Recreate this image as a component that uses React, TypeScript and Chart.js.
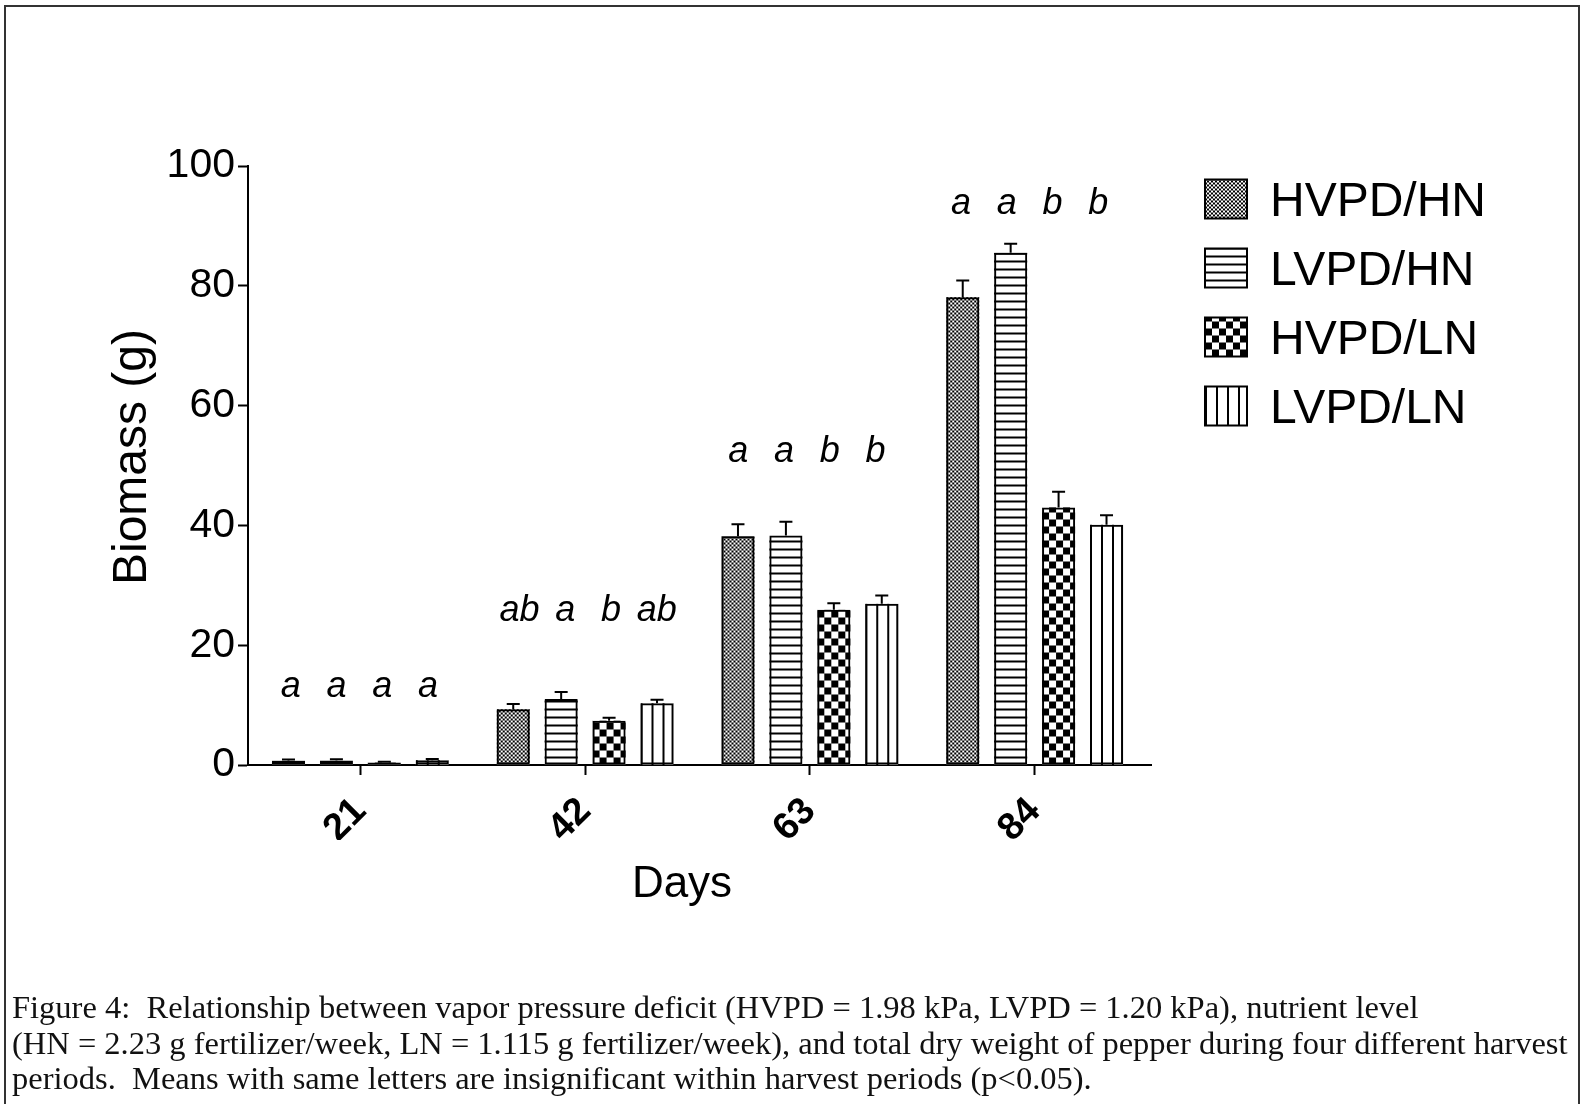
import React, { useEffect, useRef } from 'react';
import { Chart, registerables } from 'chart.js';
Chart.register(...registerables);

// ---------- data ----------
const days = ['21', '42', '63', '84'];
const seriesNames = ['HVPD/HN', 'LVPD/HN', 'HVPD/LN', 'LVPD/LN'];
const hvpdHn = [0.7, 9.3, 38.2, 78.1];
const hvpdHnErr = [0.2, 0.9, 2.0, 2.8];
const lvpdHn = [0.75, 11.0, 38.3, 85.5];
const lvpdHnErr = [0.2, 1.2, 2.3, 1.5];
const hvpdLn = [0.4, 7.4, 25.9, 43.0];
const hvpdLnErr = [0.15, 0.5, 1.1, 2.6];
const lvpdLn = [0.8, 10.3, 26.9, 40.1];
const lvpdLnErr = [0.2, 0.6, 1.4, 1.6];
const hvpdHnLetters = ['a', 'ab', 'a', 'a'];
const lvpdHnLetters = ['a', 'a', 'a', 'a'];
const hvpdLnLetters = ['a', 'b', 'b', 'b'];
const lvpdLnLetters = ['a', 'ab', 'b', 'b'];
const letterLevels = [11.3, 24.0, 50.6, 92];
const yTicks = [0, 20, 40, 60, 80, 100];
const yTitle = 'Biomass (g)';
const xTitle = 'Days';
const captionLines = [
  'Figure 4:  Relationship between vapor pressure deficit (HVPD = 1.98 kPa, LVPD = 1.20 kPa), nutrient level',
  '(HN = 2.23 g fertilizer/week, LN = 1.115 g fertilizer/week), and total dry weight of pepper during four different harvest',
  'periods.  Means with same letters are insignificant within harvest periods (p<0.05).',
];

const values = [hvpdHn, lvpdHn, hvpdLn, lvpdLn];
const errors = [hvpdHnErr, lvpdHnErr, hvpdLnErr, lvpdLnErr];
const letters = [hvpdHnLetters, lvpdHnLetters, hvpdLnLetters, lvpdLnLetters];
const patternKinds = ['fine', 'hlines', 'coarse', 'vlines'];
// letters sit slightly tighter than the bars, with a small per-group shift (px)
const letterSpread = 0.955;
const letterGroupShift = [-1, 3, -3, -5];

const SANS = '"Liberation Sans", Arial, Helvetica, sans-serif';

function makePattern(kind: string): CanvasPattern {
  const c = document.createElement('canvas');
  let w = 4, h = 4;
  if (kind === 'fine') { w = 4; h = 4; }
  if (kind === 'coarse') { w = 14; h = 14; }
  if (kind === 'hlines') { w = 8; h = 8; }
  if (kind === 'vlines') { w = 11; h = 8; }
  c.width = w; c.height = h;
  const g = c.getContext('2d')!;
  g.fillStyle = '#fff';
  g.fillRect(0, 0, w, h);
  g.fillStyle = '#000';
  if (kind === 'fine') { g.fillRect(0, 0, 2, 2); g.fillRect(2, 2, 2, 2); }
  if (kind === 'coarse') { g.fillRect(0, 0, 7, 7); g.fillRect(7, 7, 7, 7); }
  if (kind === 'hlines') { g.fillRect(0, 0, w, 2); }
  if (kind === 'vlines') { g.fillRect(0, 0, 2, h); }
  return g.createPattern(c, 'repeat')!;
}

export default function App() {
  const ref = useRef<HTMLCanvasElement>(null);
  useEffect(() => {
    const canvas = ref.current!;
    const patterns = patternKinds.map(makePattern);

    const overlay = {
      id: 'overlay',
      beforeDatasetsDraw(chart: any) {
        const ctx = chart.ctx;
        // axis line runs a little past the last category slot
        const ca = chart.chartArea;
        const yLine = Math.round(ca.bottom);
        ctx.save();
        ctx.strokeStyle = '#000';
        ctx.lineWidth = 2;
        ctx.beginPath();
        ctx.moveTo(ca.right - 2, yLine);
        ctx.lineTo(ca.right + 5, yLine);
        ctx.stroke();
        ctx.restore();
        chart.data.datasets.forEach((_: any, di: number) => {
          const meta = chart.getDatasetMeta(di);
          meta.data.forEach((el: any) => {
            const { x, y, base, width } = el.getProps(['x', 'y', 'base', 'width'], true);
            const left = x - width / 2;
            ctx.save();
            ctx.translate(left, base);
            ctx.fillStyle = patterns[di];
            ctx.fillRect(0, y - base, width, base - y);
            ctx.restore();
          });
        });
      },
      afterDatasetsDraw(chart: any) {
        const ctx = chart.ctx;
        const yScale = chart.scales.y;
        const xScale = chart.scales.x;
        ctx.save();
        // error bars
        ctx.strokeStyle = '#000';
        ctx.lineWidth = 2;
        chart.data.datasets.forEach((_: any, di: number) => {
          const meta = chart.getDatasetMeta(di);
          meta.data.forEach((el: any, j: number) => {
            const { x, y } = el.getProps(['x', 'y'], true);
            const top = yScale.getPixelForValue(values[di][j] + errors[di][j]);
            ctx.beginPath();
            ctx.moveTo(x, y);
            ctx.lineTo(x, top);
            ctx.moveTo(x - 6.5, top);
            ctx.lineTo(x + 6.5, top);
            ctx.stroke();
          });
        });
        // significance letters
        ctx.fillStyle = '#000';
        ctx.font = 'italic 36px ' + SANS;
        ctx.textAlign = 'center';
        ctx.textBaseline = 'alphabetic';
        chart.data.datasets.forEach((_: any, di: number) => {
          const meta = chart.getDatasetMeta(di);
          meta.data.forEach((el: any, j: number) => {
            const { x } = el.getProps(['x'], true);
            const cx = xScale.getPixelForValue(j);
            const lx = cx + (x - cx) * letterSpread + letterGroupShift[j];
            ctx.fillText(letters[di][j], lx, yScale.getPixelForValue(letterLevels[j]));
          });
        });
        // axis titles
        ctx.font = '48px ' + SANS;
        ctx.save();
        ctx.translate(146, 457);
        ctx.rotate(-Math.PI / 2);
        ctx.fillText(yTitle, 0, 0);
        ctx.restore();
        ctx.font = '44px ' + SANS;
        ctx.fillText(xTitle, 682, 897);
        // legend
        seriesNames.forEach((name, i) => {
          const yc = 199 + i * 69;
          const sx = 1205, sw = 42, sh = 39;
          ctx.save();
          ctx.translate(sx, yc + sh / 2);
          ctx.fillStyle = patterns[i];
          ctx.fillRect(0, -sh, sw, sh);
          ctx.restore();
          ctx.strokeStyle = '#000';
          ctx.lineWidth = 2;
          ctx.strokeRect(sx, yc - sh / 2, sw, sh);
          ctx.fillStyle = '#000';
          ctx.font = '48px ' + SANS;
          ctx.textAlign = 'left';
          ctx.textBaseline = 'alphabetic';
          ctx.fillText(name, 1270, 216 + i * 69);
        });
        ctx.restore();
      },
    };

    const chart = new Chart(canvas, {
      type: 'bar',
      data: {
        labels: days,
        datasets: seriesNames.map((name, i) => ({
          label: name,
          data: values[i],
          backgroundColor: 'rgba(0,0,0,0)',
          borderColor: '#000',
          borderWidth: 2,
          borderSkipped: false,
          categoryPercentage: 0.853,
          barPercentage: 0.69,
        })),
      },
      options: {
        animation: false,
        responsive: false,
        events: [],
        layout: { padding: { top: 166, left: 0, right: 1585 - 1147, bottom: 1104 - 765 - 75 } },
        plugins: { legend: { display: false }, tooltip: { enabled: false }, title: { display: false } },
        scales: {
          x: {
            type: 'category',
            offset: true,
            grid: { display: true, drawOnChartArea: false, offset: false, tickLength: 10, tickWidth: 2, tickColor: '#000' },
            border: { display: true, color: '#000', width: 2 },
            ticks: { color: '#000', font: { family: SANS, size: 38, weight: 'bold' }, minRotation: 45, maxRotation: 45, padding: 14 },
            afterFit: (s: any) => { s.height = 75; },
          },
          y: {
            min: 0,
            max: 100,
            afterBuildTicks: (s: any) => { s.ticks = yTicks.map((v) => ({ value: v })); },
            grid: { display: true, drawOnChartArea: false, tickLength: 10, tickWidth: 2, tickColor: '#000' },
            border: { display: true, color: '#000', width: 2 },
            ticks: { color: '#000', font: { family: SANS, size: 41 }, padding: 3 },
            afterFit: (s: any) => { s.width = 248; },
          },
        },
      },
      plugins: [overlay],
    } as any);
    return () => chart.destroy();
  }, []);

  return (
    <div style={{ position: 'absolute', left: 0, top: 0, width: 1585, height: 1104, overflow: 'hidden', background: '#fff' }}>
      <canvas ref={ref} width={1585} height={1104} style={{ position: 'absolute', left: 0, top: 0, width: 1585, height: 1104 }} />
      <div style={{ position: 'absolute', left: 4, top: 5, width: 1576, height: 1130, border: '2px solid #333', boxSizing: 'border-box' }} />
      <div style={{ position: 'absolute', left: 12, top: 990, fontFamily: '"Liberation Serif", "Times New Roman", serif', fontSize: 32.5, lineHeight: '35.5px', whiteSpace: 'pre', color: '#111' }}>
        {captionLines.map((l, i) => (<div key={i}>{l}</div>))}
      </div>
    </div>
  );
}
